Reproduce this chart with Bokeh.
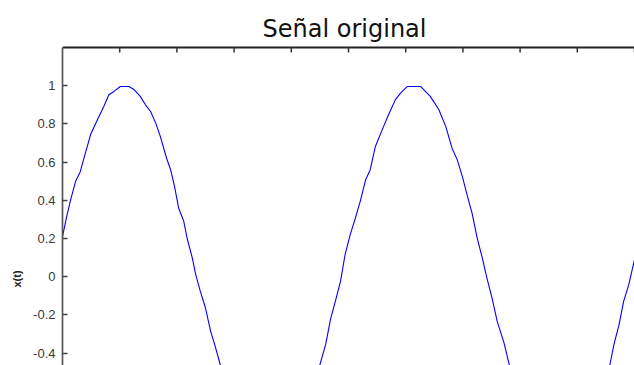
from bokeh.plotting import figure
from bokeh.models import Range1d, FixedTicker, Title
from bokeh.core.properties import value
from bokeh.embed import file_html
from bokeh.resources import INLINE

# time samples (s) and signal values
t = [0.000, 0.007, 0.014, 0.023, 0.031, 0.040, 0.049, 0.061, 0.072, 0.081,
     0.090, 0.101, 0.116, 0.125, 0.136, 0.145, 0.154, 0.163, 0.171, 0.182,
     0.189, 0.196, 0.203, 0.212, 0.218, 0.227, 0.233, 0.241, 0.250, 0.259,
     0.267, 0.275, 0.290, 0.311, 0.334, 0.360, 0.386, 0.409, 0.430, 0.450,
     0.460, 0.469, 0.477, 0.486, 0.494, 0.503, 0.512, 0.521, 0.530, 0.538,
     0.547, 0.559, 0.570, 0.582, 0.591, 0.603, 0.626, 0.643, 0.658, 0.670,
     0.681, 0.690, 0.699, 0.708, 0.716, 0.725, 0.734, 0.742, 0.751, 0.760,
     0.772, 0.781, 0.797, 0.818, 0.841, 0.867, 0.893, 0.916, 0.937, 0.957,
     0.964, 0.973, 0.981, 0.990, 1.000]
x = [0.21, 0.31, 0.40, 0.50, 0.55, 0.647, 0.743, 0.822, 0.89, 0.953,
     0.97, 0.996, 0.996, 0.98, 0.944, 0.90, 0.865, 0.804, 0.735, 0.62,
     0.56, 0.47, 0.36, 0.29, 0.20, 0.097, 0.01, -0.077, -0.164, -0.286,
     -0.365, -0.452, -0.62, -0.80, -0.94, -1.0, -0.94, -0.80, -0.63, -0.461,
     -0.356, -0.217, -0.129, -0.025, 0.115, 0.22, 0.307, 0.40, 0.508, 0.56,
     0.682, 0.77, 0.848, 0.927, 0.961, 0.996, 0.996, 0.944, 0.874, 0.787,
     0.673, 0.613, 0.525, 0.42, 0.333, 0.202, 0.097, -0.007, -0.112, -0.234,
     -0.348, -0.461, -0.63, -0.80, -0.94, -1.0, -0.94, -0.80, -0.63, -0.461,
     -0.356, -0.251, -0.129, -0.042, 0.09]

y_ticks = [-0.4, -0.2, 0, 0.2, 0.4, 0.6, 0.8, 1]
y_tick_labels = ["-0.4", "-0.2", "0", "0.2", "0.4", "0.6", "0.8", "1"]
x_ticks = [0.1, 0.2, 0.3, 0.4, 0.5, 0.6, 0.7, 0.8, 0.9, 1.0]
x_left, x_right = 0.0, 1.0
y_top = 1.2          # top edge of the axes box
y_bottom = -0.465    # lowest visible value

title_text = "Señal original"
ylabel_text = "x(t)"

W, H = 634, 365
LEFT = 62            # px width of the left margin
TOP = 47             # px from canvas top to the axes box
px_per_unit = (H - TOP) / (y_top - y_bottom)
y_canvas_top = y_top + TOP / px_per_unit
tick_len = 5 / px_per_unit

p = figure(width=W, height=H, output_backend="svg", toolbar_location=None,
           x_range=Range1d(x_left, x_right), y_range=Range1d(y_bottom, y_canvas_top),
           x_axis_location=None, min_border_left=LEFT, min_border_right=0,
           min_border_top=0, min_border_bottom=0)
p.background_fill_color = "white"
p.border_fill_color = "white"
p.outline_line_color = None
p.grid.visible = False

# title in the band above the axes box
p.text(x=[(344 - LEFT) / (W - LEFT)], y=[y_top + (TOP - 28.3) / px_per_unit],
       text=[title_text], text_align="center", text_baseline="alphabetic",
       text_font=value("DejaVu Sans"), text_font_size=value("24px"),
       text_color="#111111")

# top edge of the box with inward ticks
p.segment(x0=[x_left], y0=[y_top], x1=[x_right], y1=[y_top],
          line_color="#222222", line_width=2)
p.segment(x0=x_ticks, y0=[y_top] * len(x_ticks), x1=x_ticks,
          y1=[y_top - tick_len] * len(x_ticks), line_color="#333333", line_width=1.5)

# left axis, its line limited to the box
ya = p.yaxis[0]
ya.bounds = (y_bottom, y_top)
ya.ticker = FixedTicker(ticks=y_ticks)
ya.major_label_overrides = {v: s for v, s in zip(y_ticks, y_tick_labels)}
ya.major_label_text_font = "Liberation Sans"
ya.major_label_text_font_size = "13px"
ya.major_label_text_color = "#3a3a3a"
ya.major_label_standoff = 7
ya.major_tick_out = 0
ya.major_tick_in = 5
ya.minor_tick_in = 0
ya.minor_tick_out = 0
ya.axis_line_color = "#555555"
ya.axis_line_width = 1.7
ya.major_tick_line_color = "#444444"
ya.major_tick_line_width = 1.5

p.line(t, x, line_color="#0000ff", line_width=1.1)

# y label as a left-side title, positioned along the axis
p.add_layout(Title(text=ylabel_text, align="left", offset=78, standoff=16,
                   text_font="Liberation Sans", text_font_size="11px",
                   text_font_style="bold", text_color="#222222"), "left")

open("out.html", "w").write(file_html(p, INLINE))
